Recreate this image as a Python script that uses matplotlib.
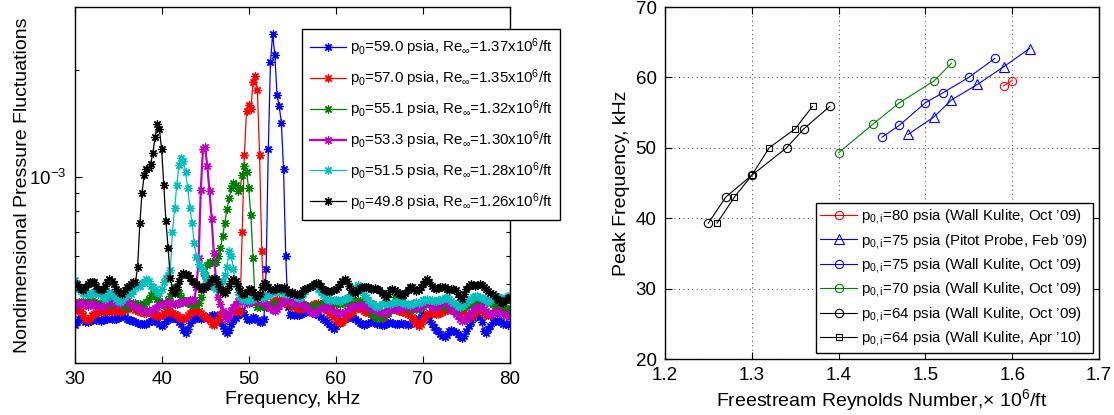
import numpy as np
import matplotlib
matplotlib.use('Agg')
import matplotlib.pyplot as plt
from matplotlib.ticker import LogLocator, NullFormatter

plt.rcParams['font.family'] = ['Liberation Sans', 'DejaVu Sans']
plt.rcParams['mathtext.fontset'] = 'custom'
plt.rcParams['mathtext.rm'] = 'Liberation Sans'
plt.rcParams['mathtext.it'] = 'Liberation Sans:italic'
plt.rcParams['mathtext.bf'] = 'Liberation Sans:bold'

# ---- left panel: spectra, 0.25 kHz bins from 30 to 80 kHz (values x 1e-4) ----
freq = np.linspace(30, 80, 201)

p_blue = [3.84, 3.92, 4.0, 4.01, 3.97, 3.92, 3.9, 3.93, 3.97, 3.98, 3.97, 3.95, 3.94, 3.96, 3.98, 4.0, 4.01, 4.0, 3.98, 4.0,
          4.02, 4.05, 4.06, 4.03, 4.0, 3.97, 3.95, 3.93, 3.9, 3.88, 3.86, 3.85, 3.85, 3.87, 3.9, 3.93, 3.95, 3.93, 3.9, 3.85,
          3.8, 3.85, 3.93, 3.98, 4.0, 4.02, 4.01, 3.98, 3.92, 3.85, 3.72, 3.64, 3.75, 3.88, 3.95, 4.0, 4.03, 4.02, 4.0, 4.02,
          4.03, 4.04, 4.05, 4.08, 4.1, 4.05, 3.98, 3.9, 3.8, 3.7, 3.64, 3.72, 3.85, 3.95, 4.02, 4.1, 4.18, 4.22, 4.12, 4.0,
          3.95, 4.0, 4.05, 4.02, 3.95, 3.9, 3.9, 4.0, 5.5, 12.0, 21.0, 25.2, 22.0, 17.0, 15.8, 14.2, 10.5, 6.0, 4.3, 4.1,
          4.12, 4.1, 4.08, 4.1, 4.12, 4.15, 4.18, 4.2, 4.22, 4.2, 4.15, 4.12, 4.1, 4.05, 4.0, 3.95, 3.9, 3.85, 3.78, 3.75,
          3.8, 3.88, 3.92, 3.97, 4.0, 4.02, 4.05, 4.06, 4.02, 3.98, 3.93, 3.88, 3.85, 3.84, 3.85, 3.88, 3.9, 3.92, 3.9, 3.87,
          3.85, 3.84, 3.84, 3.86, 3.88, 3.9, 3.88, 3.86, 3.86, 3.87, 3.88, 3.87, 3.85, 3.84, 3.86, 3.9, 3.95, 3.98, 4.0, 4.05,
          4.08, 4.1, 4.05, 3.95, 3.85, 3.78, 3.72, 3.68, 3.62, 3.57, 3.55, 3.6, 3.68, 3.72, 3.7, 3.67, 3.62, 3.56, 3.52, 3.58,
          3.68, 3.8, 3.92, 4.02, 4.06, 4.07, 4.05, 3.9, 3.7, 3.65, 3.75, 3.82, 3.9, 3.93, 3.95, 3.93, 3.9, 3.87, 3.85, 3.84,
          3.85]
p_red = [4.19, 4.22, 4.25, 4.2, 4.1, 4.0, 3.97, 4.02, 4.1, 4.12, 4.15, 4.17, 4.18, 4.2, 4.22, 4.2, 4.18, 4.2, 4.22, 4.2,
         4.2, 4.18, 4.2, 4.22, 4.26, 4.3, 4.32, 4.28, 4.22, 4.19, 4.18, 4.17, 4.15, 4.15, 4.17, 4.15, 4.12, 4.1, 4.07, 4.06,
         4.1, 4.15, 4.19, 4.2, 4.18, 4.15, 4.12, 4.1, 4.05, 4.02, 4.0, 4.05, 4.1, 4.15, 4.18, 4.2, 4.22, 4.2, 4.15, 4.1,
         4.05, 4.02, 3.95, 3.87, 3.84, 3.9, 4.0, 4.12, 4.15, 4.12, 4.1, 4.15, 4.2, 4.22, 4.2, 4.18, 4.2, 7.0, 11.5, 15.3,
         15.9, 15.5, 18.5, 19.2, 17.5, 11.5, 6.2, 4.4, 4.3, 4.32, 4.35, 4.45, 4.48, 4.5, 4.5, 4.48, 4.45, 4.42, 4.4, 4.38,
         4.35, 4.3, 4.27, 4.25, 4.25, 4.28, 4.3, 4.32, 4.32, 4.35, 4.38, 4.4, 4.42, 4.4, 4.35, 4.3, 4.22, 4.15, 4.1, 4.05,
         3.98, 3.92, 3.88, 3.92, 4.0, 4.08, 4.12, 4.15, 4.2, 4.25, 4.27, 4.28, 4.25, 4.2, 4.17, 4.15, 4.12, 4.1, 4.08, 4.05,
         4.03, 4.02, 4.05, 4.12, 4.2, 4.25, 4.27, 4.25, 4.22, 4.2, 4.2, 4.18, 4.15, 4.12, 4.1, 4.05, 3.95, 3.86, 3.8, 3.85,
         3.95, 4.05, 4.12, 4.15, 4.17, 4.15, 4.12, 4.12, 4.15, 4.18, 4.2, 4.22, 4.25, 4.27, 4.25, 4.22, 4.2, 4.2, 4.2, 4.17,
         4.12, 4.08, 4.05, 4.08, 4.15, 4.2, 4.22, 4.2, 4.15, 4.1, 4.08, 4.1, 4.15, 4.2, 4.22, 4.2, 4.15, 4.12, 4.15, 4.2,
         4.22]
p_green = [4.37, 4.4, 4.45, 4.46, 4.45, 4.42, 4.45, 4.48, 4.48, 4.45, 4.42, 4.4, 4.4, 4.42, 4.4, 4.38, 4.37, 4.4, 4.43, 4.46,
           4.46, 4.42, 4.38, 4.35, 4.32, 4.35, 4.4, 4.42, 4.42, 4.4, 4.38, 4.37, 4.38, 4.45, 4.55, 4.65, 4.72, 4.65, 4.55, 4.48,
           4.42, 4.37, 4.4, 4.5, 4.62, 4.8, 4.92, 4.85, 4.72, 4.6, 4.5, 4.45, 4.42, 4.4, 4.38, 4.37, 4.38, 4.42, 4.6, 4.9,
           5.3, 5.65, 5.75, 5.78, 5.72, 5.75, 5.98, 6.3, 6.8, 7.4, 8.1, 8.7, 9.3, 9.6, 9.5, 9.1, 9.3, 10.1, 10.7, 10.3,
           9.3, 7.8, 5.9, 4.45, 4.32, 4.32, 4.35, 4.38, 4.35, 4.33, 4.35, 4.38, 4.4, 4.4, 4.42, 4.45, 4.48, 4.5, 4.48, 4.45,
           4.42, 4.4, 4.42, 4.4, 4.38, 4.37, 4.37, 4.35, 4.33, 4.32, 4.33, 4.32, 4.35, 4.38, 4.42, 4.45, 4.46, 4.42, 4.37, 4.38,
           4.4, 4.42, 4.4, 4.42, 4.45, 4.48, 4.5, 4.51, 4.5, 4.48, 4.47, 4.47, 4.48, 4.47, 4.4, 4.3, 4.2, 4.12, 4.05, 4.01,
           4.02, 4.05, 4.1, 4.12, 4.15, 4.25, 4.4, 4.6, 4.75, 4.72, 4.55, 4.4, 4.3, 4.27, 4.25, 4.25, 4.27, 4.26, 4.25, 4.3,
           4.35, 4.4, 4.42, 4.4, 4.38, 4.35, 4.35, 4.35, 4.35, 4.33, 4.32, 4.33, 4.32, 4.32, 4.3, 4.28, 4.27, 4.28, 4.3, 4.33,
           4.35, 4.38, 4.4, 4.42, 4.45, 4.47, 4.48, 4.5, 4.52, 4.48, 4.45, 4.42, 4.4, 4.38, 4.35, 4.32, 4.28, 4.25, 4.22, 4.25,
           4.28]
p_magenta = [4.32, 4.38, 4.42, 4.42, 4.42, 4.38, 4.35, 4.38, 4.4, 4.38, 4.35, 4.33, 4.32, 4.35, 4.4, 4.45, 4.5, 4.48, 4.42, 4.38,
             4.4, 4.42, 4.45, 4.47, 4.47, 4.42, 4.38, 4.35, 4.32, 4.3, 4.25, 4.2, 4.19, 4.2, 4.22, 4.2, 4.22, 4.28, 4.32, 4.36,
             4.38, 4.4, 4.42, 4.45, 4.42, 4.4, 4.38, 4.4, 4.42, 4.45, 4.45, 4.47, 4.48, 4.5, 4.5, 4.52, 4.9, 5.9, 9.2, 12.0,
             12.1, 10.7, 9.1, 7.6, 6.1, 5.1, 4.6, 4.4, 4.2, 4.05, 4.0, 4.1, 4.2, 4.3, 4.4, 4.48, 4.51, 4.5, 4.45, 4.42,
             4.42, 4.45, 4.48, 4.5, 4.5, 4.48, 4.45, 4.42, 4.4, 4.35, 4.28, 4.22, 4.2, 4.25, 4.35, 4.42, 4.48, 4.5, 4.5, 4.48,
             4.45, 4.42, 4.4, 4.4, 4.42, 4.4, 4.35, 4.28, 4.2, 4.15, 4.15, 4.18, 4.22, 4.25, 4.28, 4.3, 4.3, 4.28, 4.25, 4.2,
             4.18, 4.15, 4.15, 4.15, 4.18, 4.22, 4.28, 4.32, 4.33, 4.33, 4.35, 4.36, 4.37, 4.35, 4.32, 4.3, 4.28, 4.25, 4.22, 4.2,
             4.18, 4.15, 4.15, 4.18, 4.2, 4.22, 4.25, 4.25, 4.25, 4.27, 4.28, 4.3, 4.32, 4.33, 4.32, 4.3, 4.28, 4.28, 4.3, 4.35,
             4.38, 4.4, 4.42, 4.38, 4.32, 4.3, 4.32, 4.35, 4.4, 4.45, 4.46, 4.42, 4.35, 4.28, 4.2, 4.12, 4.06, 3.98, 3.93, 3.95,
             4.0, 4.08, 4.15, 4.22, 4.28, 4.32, 4.35, 4.3, 4.25, 4.2, 4.15, 4.12, 4.15, 4.18, 4.2, 4.18, 4.15, 4.12, 4.1, 4.08,
             4.05]
p_cyan = [5.13, 5.0, 4.85, 4.78, 4.72, 4.7, 4.7, 4.68, 4.72, 4.75, 4.75, 4.7, 4.68, 4.62, 4.55, 4.6, 4.75, 4.7, 4.62, 4.55,
          4.48, 4.45, 4.5, 4.6, 4.72, 4.75, 4.7, 4.78, 4.92, 4.95, 4.95, 5.02, 5.08, 5.15, 5.1, 4.95, 4.92, 4.85, 4.75, 4.72,
          4.85, 5.05, 5.2, 5.3, 5.48, 7.0, 8.2, 9.5, 10.8, 11.3, 11.1, 10.3, 9.3, 8.2, 7.4, 6.5, 5.95, 5.7, 5.6, 5.45,
          5.25, 5.1, 5.0, 4.95, 4.9, 4.85, 4.9, 5.0, 5.1, 5.3, 5.6, 6.2, 6.0, 5.5, 5.0, 4.75, 4.6, 4.55, 4.5, 4.5,
          4.5, 4.5, 4.55, 4.6, 4.62, 4.6, 4.58, 4.6, 4.62, 4.65, 4.7, 4.72, 4.75, 4.77, 4.77, 4.75, 4.72, 4.7, 4.7, 4.72,
          4.7, 4.65, 4.6, 4.58, 4.6, 4.68, 4.78, 4.88, 4.92, 4.95, 4.97, 4.95, 4.85, 4.75, 4.65, 4.6, 4.55, 4.52, 4.51, 4.5,
          4.5, 4.5, 4.48, 4.5, 4.55, 4.58, 4.6, 4.7, 4.82, 4.92, 4.97, 4.9, 4.78, 4.65, 4.6, 4.5, 4.42, 4.38, 4.34, 4.32,
          4.35, 4.38, 4.4, 4.42, 4.42, 4.4, 4.42, 4.45, 4.45, 4.47, 4.45, 4.42, 4.4, 4.38, 4.37, 4.4, 4.42, 4.45, 4.42, 4.45,
          4.5, 4.52, 4.55, 4.52, 4.5, 4.47, 4.48, 4.5, 4.52, 4.55, 4.58, 4.6, 4.55, 4.48, 4.42, 4.38, 4.35, 4.32, 4.33, 4.38,
          4.45, 4.52, 4.55, 4.6, 4.62, 4.62, 4.6, 4.58, 4.55, 4.5, 4.45, 4.5, 4.55, 4.58, 4.6, 4.6, 4.58, 4.55, 4.58, 4.62,
          4.62]
p_black = [4.97, 5.0, 4.9, 4.85, 4.82, 4.9, 5.0, 5.05, 5.08, 5.05, 4.95, 4.85, 4.82, 4.85, 4.95, 5.08, 5.15, 5.1, 5.0, 4.85,
           4.78, 4.72, 4.7, 4.8, 4.9, 4.95, 5.0, 5.05, 5.05, 5.6, 7.4, 9.0, 10.1, 10.5, 10.6, 10.9, 11.7, 12.9, 14.1, 13.6,
           12.0, 9.5, 7.5, 6.3, 5.2, 4.8, 4.72, 4.9, 5.1, 5.3, 5.37, 5.35, 5.3, 5.2, 5.1, 5.05, 5.0, 4.95, 4.85, 4.85,
           4.9, 4.95, 5.05, 5.15, 5.2, 5.15, 5.0, 4.85, 4.75, 4.72, 4.8, 4.95, 5.1, 5.15, 5.1, 4.95, 4.8, 4.7, 4.68, 4.75,
           4.85, 4.85, 4.75, 4.65, 4.6, 4.7, 4.9, 5.02, 5.0, 4.9, 4.85, 4.82, 4.85, 4.9, 4.88, 4.85, 4.9, 4.85, 4.75, 4.72,
           4.75, 4.7, 4.68, 4.66, 4.7, 4.8, 4.85, 4.88, 4.9, 4.95, 5.0, 5.02, 5.02, 4.95, 4.85, 4.8, 4.78, 4.75, 4.77, 4.8,
           4.85, 4.9, 5.0, 5.1, 5.15, 5.1, 4.95, 4.8, 4.75, 4.72, 4.8, 4.88, 4.9, 4.92, 4.92, 4.9, 4.85, 4.85, 4.88, 4.85,
           4.8, 4.72, 4.65, 4.61, 4.7, 4.8, 4.85, 4.8, 4.75, 4.68, 4.65, 4.65, 4.72, 4.82, 4.9, 4.92, 4.85, 4.78, 4.8, 4.9,
           5.0, 5.1, 5.15, 5.05, 4.95, 4.88, 4.85, 4.88, 4.9, 4.92, 4.9, 4.85, 4.82, 4.85, 4.85, 4.8, 4.7, 4.6, 4.55, 4.7,
           4.85, 4.95, 5.0, 4.97, 4.95, 4.98, 5.0, 4.97, 4.9, 4.85, 4.78, 4.72, 4.68, 4.62, 4.55, 4.5, 4.45, 4.42, 4.5, 4.58,
           4.6]

spec_labels = [r'p$_0$=59.0 psia, Re$_\infty$=1.37x10$^6$/ft',
               r'p$_0$=57.0 psia, Re$_\infty$=1.35x10$^6$/ft',
               r'p$_0$=55.1 psia, Re$_\infty$=1.32x10$^6$/ft',
               r'p$_0$=53.3 psia, Re$_\infty$=1.30x10$^6$/ft',
               r'p$_0$=51.5 psia, Re$_\infty$=1.28x10$^6$/ft',
               r'p$_0$=49.8 psia, Re$_\infty$=1.26x10$^6$/ft']

# ---- right panel: peak frequency vs Reynolds number ----
re_80 = [1.59, 1.60]
f_80 = [58.8, 59.55]
re_75p = [1.62, 1.59, 1.56, 1.53, 1.51, 1.48]
f_75p = [64.1, 61.5, 59.0, 56.8, 54.4, 51.9]
re_75w = [1.45, 1.47, 1.50, 1.52, 1.55, 1.58]
f_75w = [51.5, 53.2, 56.4, 57.8, 60.0, 62.7]
re_70 = [1.40, 1.44, 1.47, 1.51, 1.53]
f_70 = [49.3, 53.4, 56.4, 59.5, 62.0]
re_64o = [1.25, 1.27, 1.30, 1.34, 1.36, 1.39]
f_64o = [39.3, 43.0, 46.1, 50.0, 52.7, 55.9]
re_64a = [1.26, 1.28, 1.30, 1.32, 1.35, 1.37]
f_64a = [39.3, 43.0, 46.1, 50.0, 52.7, 55.9]

peak_labels = [r'p$_{\mathrm{0,i}}$=80 psia (Wall Kulite, Oct ’09)',
               r'p$_{\mathrm{0,i}}$=75 psia (Pitot Probe, Feb ’09)',
               r'p$_{\mathrm{0,i}}$=75 psia (Wall Kulite, Oct ’09)',
               r'p$_{\mathrm{0,i}}$=70 psia (Wall Kulite, Oct ’09)',
               r'p$_{\mathrm{0,i}}$=64 psia (Wall Kulite, Oct ’09)',
               r'p$_{\mathrm{0,i}}$=64 psia (Wall Kulite, Apr ’10)']

W, H = 1114, 415
fig = plt.figure(figsize=(W / 100, H / 100), dpi=100)
ax1 = fig.add_axes([74.5 / W, 1 - 363 / H, 435.5 / W, 356 / H])
ax2 = fig.add_axes([665 / W, 1 - 359 / H, 434 / W, 352 / H])

green = (0, 0.5, 0)
star = (8, 2, 0)
series = [(p_blue, 'b', 0.9), (p_red, 'r', 0.9), (p_green, green, 0.9),
          (p_magenta, 'm', 1.6), (p_cyan, 'c', 0.9), (p_black, 'k', 0.9)]
for (vals, col, lw), lab in zip(series, spec_labels):
    ax1.plot(freq, np.array(vals) * 1e-4, color=col, lw=lw, marker=star,
             ms=6, mew=0.9, label=lab)

ax1.set_yscale('log')
ax1.set_xlim(30, 80)
ax1.set_ylim(3e-4, 3e-3)
ax1.set_xticks([30, 40, 50, 60, 70, 80])
ax1.yaxis.set_minor_locator(LogLocator(base=10, subs=np.arange(2, 10)))
ax1.yaxis.set_minor_formatter(NullFormatter())
ax1.set_xlabel('Frequency, kHz', fontsize=14)
ax1.set_ylabel('Nondimensional Pressure Fluctuations', fontsize=14)
ax1.xaxis.set_label_coords(0.5, -0.08)
ax1.yaxis.set_label_coords(-0.1, 0.5)

leg1 = ax1.legend(loc='upper left', bbox_to_anchor=(302 / W, 1 - 29 / H),
                  bbox_transform=fig.transFigure, fontsize=10.8, frameon=True,
                  fancybox=False, edgecolor='k', framealpha=1, borderpad=0.5,
                  labelspacing=0.62, handlelength=2.45, handletextpad=0.25,
                  borderaxespad=0)
leg1.get_frame().set_linewidth(1.0)

ax2.plot(re_80, f_80, color='r', lw=0.8, marker='o', ms=6, mfc='none', mew=0.8, label=peak_labels[0])
ax2.plot(re_75p, f_75p, color='b', lw=0.8, marker='^', ms=7, mfc='none', mew=0.8, label=peak_labels[1])
ax2.plot(re_75w, f_75w, color='b', lw=0.8, marker='o', ms=6, mfc='none', mew=0.8, label=peak_labels[2])
ax2.plot(re_70, f_70, color=green, lw=0.8, marker='o', ms=6, mfc='none', mew=0.8, label=peak_labels[3])
ax2.plot(re_64o, f_64o, color='k', lw=0.8, marker='o', ms=6, mfc='none', mew=0.8, label=peak_labels[4])
ax2.plot(re_64a, f_64a, color='k', lw=0.8, marker='s', ms=5, mfc='none', mew=0.8, label=peak_labels[5])

ax2.set_xlim(1.2, 1.7)
ax2.set_ylim(20, 70)
ax2.set_xticks([1.2, 1.3, 1.4, 1.5, 1.6, 1.7])
ax2.set_yticks([20, 30, 40, 50, 60, 70])
ax2.grid(True, linestyle=(0, (1, 3)), color='0.35', lw=0.8)
ax2.set_xlabel(r'Freestream Reynolds Number,$\times$ 10$^6$/ft', fontsize=14)
ax2.set_ylabel('Peak Frequency, kHz', fontsize=14)
ax2.xaxis.set_label_coords(0.5, -0.08)
ax2.yaxis.set_label_coords(-0.08, 0.5)

leg2 = ax2.legend(loc='lower right', fontsize=10.8, frameon=True, fancybox=False,
                  edgecolor='k', framealpha=1, borderpad=0.3, labelspacing=0.36,
                  handlelength=2.45, handletextpad=0.3, borderaxespad=0.42)
leg2.get_frame().set_linewidth(1.0)

for ax in (ax1, ax2):
    ax.tick_params(which='both', direction='in', top=True, right=True,
                   labelsize=13.5, width=0.8)
    ax.tick_params(which='major', length=5, pad=6)
    ax.tick_params(which='minor', length=3)
    for s in ax.spines.values():
        s.set_linewidth(1.0)

fig.savefig('out.png', dpi=100)
